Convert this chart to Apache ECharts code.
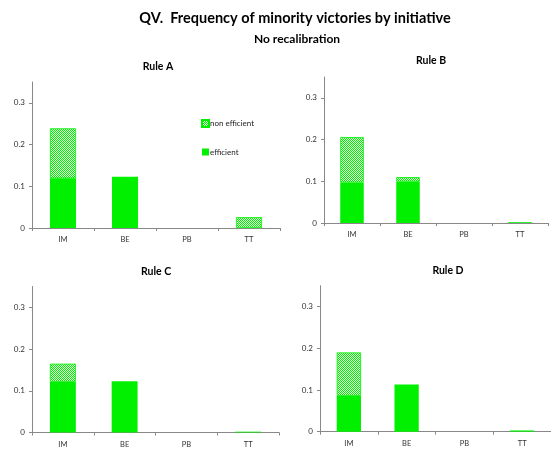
<!DOCTYPE html>
<html><head><meta charset="utf-8">
<script src="https://cdn.jsdelivr.net/npm/echarts@6/dist/echarts.min.js"></script>
<style>html,body{margin:0;padding:0;background:#fff}#c{width:551px;height:452px}</style>
</head><body><div id="c"></div>
<script>
var categories = ['IM', 'BE', 'PB', 'TT'];
var yTicks = [0, 0.1, 0.2, 0.3];
var panelTitles = ['Rule A', 'Rule B', 'Rule C', 'Rule D'];
var effA = [0.119, 0.123, 0, 0];
var nonA = [0.120, 0, 0, 0.026];
var effB = [0.097, 0.099, 0, 0.002];
var nonB = [0.109, 0.011, 0, 0];
var effC = [0.121, 0.123, 0, 0.002];
var nonC = [0.044, 0, 0, 0];
var effD = [0.086, 0.113, 0, 0.003];
var nonD = [0.104, 0, 0, 0];
var effAll = [effA, effB, effC, effD];
var nonAll = [nonA, nonB, nonC, nonD];

function skipZero(arr) { return arr.map(function (v) { return v === 0 ? '-' : v; }); }

var FONT = 'Lato';
var GREEN = '#00f000';
var pc = document.createElement('canvas');
pc.width = 4; pc.height = 4;
var g = pc.getContext('2d');
g.fillStyle = GREEN; g.fillRect(0, 0, 4, 4);
g.fillStyle = '#ffffff';
g.fillRect(0, 3, 1, 1); g.fillRect(1, 2, 1, 1); g.fillRect(2, 1, 1, 1); g.fillRect(3, 0, 1, 1);
g.fillStyle = '#d8ffd8';
g.fillRect(0, 1, 1, 1); g.fillRect(1, 0, 1, 1); g.fillRect(2, 3, 1, 1); g.fillRect(3, 2, 1, 1);
var hatch = { image: pc, repeat: 'repeat' };

var grids = [
  { left: 32, top: 82, width: 248, height: 146 },
  { left: 324, top: 77, width: 224, height: 146 },
  { left: 32, top: 286.5, width: 247, height: 146 },
  { left: 320, top: 285.7, width: 236, height: 146 }
];
var titlePos = [[153, 56], [426, 50], [151, 261], [443, 260]];

var titles = [
  { text: 'QV.  Frequency of minority victories by initiative', left: 290, top: 6, textAlign: 'center',
    textStyle: { fontFamily: FONT, fontSize: 14.5, fontWeight: 'bold', color: '#000' } },
  { text: 'No recalibration', left: 292, top: 28, textAlign: 'center',
    textStyle: { fontFamily: FONT, fontSize: 12, fontWeight: 'bold', color: '#000' } }
];
panelTitles.forEach(function (t, i) {
  titles.push({ text: t, left: titlePos[i][0], top: titlePos[i][1], textAlign: 'center',
    textStyle: { fontFamily: FONT, fontSize: 10.5, fontWeight: 'bold', color: '#000' } });
});

var xAxes = [], yAxes = [], series = [];
grids.forEach(function (gr, i) {
  xAxes.push({ type: 'category', gridIndex: i, data: categories,
    axisLine: { lineStyle: { color: '#888', width: 1 } },
    axisTick: { show: true, length: 3, lineStyle: { color: '#888' } },
    axisLabel: { fontFamily: FONT, fontSize: 7.5, color: '#333', margin: 8 } });
  yAxes.push({ type: 'value', gridIndex: i, min: 0, max: 0.35, interval: 0.1,
    splitLine: { show: false },
    axisLine: { show: true, lineStyle: { color: '#888', width: 1 } },
    axisTick: { show: true, length: 3, customValues: yTicks, lineStyle: { color: '#888' } },
    axisLabel: { fontFamily: FONT, fontSize: 8, color: '#333', margin: 7, customValues: yTicks,
      formatter: function (v) { return v === 0 ? '0' : String(Math.round(v * 10) / 10); } } });
  series.push({ name: 'efficient', type: 'bar', xAxisIndex: i, yAxisIndex: i, stack: 's' + i,
    barWidth: '42%', data: skipZero(effAll[i]), itemStyle: { color: GREEN }, silent: true });
  series.push({ name: 'non efficient', type: 'bar', xAxisIndex: i, yAxisIndex: i, stack: 's' + i,
    barWidth: '42%', data: skipZero(nonAll[i]), itemStyle: { color: hatch, borderColor: GREEN, borderWidth: 0.8 }, silent: true });
});

var chart = echarts.init(document.getElementById('c'), null, { renderer: 'canvas' });
chart.setOption({
  animation: false,
  title: titles,
  grid: grids,
  xAxis: xAxes,
  yAxis: yAxes,
  legend: { data: ['non efficient', 'efficient'], orient: 'vertical', left: 196, top: 114,
    itemWidth: 7, itemHeight: 7, itemGap: 20, icon: 'rect',
    textStyle: { fontFamily: FONT, fontSize: 8, color: '#222', padding: [0, 0, 0, -4] } },
  series: series
});
</script></body></html>
